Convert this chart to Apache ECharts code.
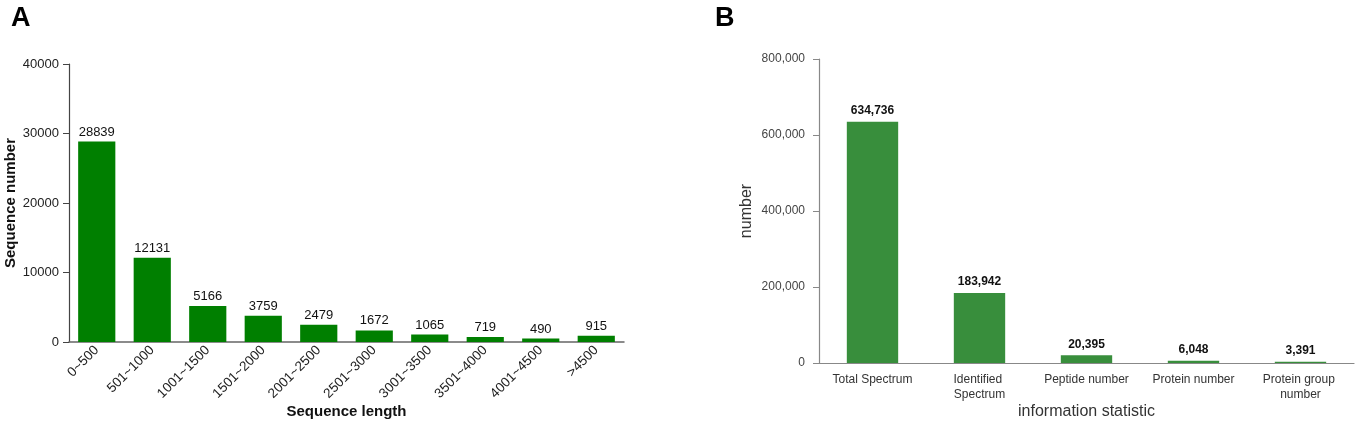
<!DOCTYPE html>
<html>
<head>
<meta charset="utf-8">
<script src="https://cdn.jsdelivr.net/npm/echarts@6/dist/echarts.min.js"></script>
<style>
html,body{margin:0;padding:0;background:#fff;}
#chart{width:1358px;height:424px;}
</style>
</head>
<body>
<div id="chart"></div>
<script>
// panel A: sequence length distribution
var lengthCats = ['0~500', '501~1000', '1001~1500', '1501~2000', '2001~2500', '2501~3000', '3001~3500', '3501~4000', '4001~4500', '>4500'];
var lengthCounts = [28839, 12131, 5166, 3759, 2479, 1672, 1065, 719, 490, 915];

// panel B: information statistic
var infoCats = ['Total Spectrum', 'Identified Spectrum', 'Peptide number', 'Protein number', 'Protein group number'];
var infoCounts = [634736, 183942, 20395, 6048, 3391];

var fontFam = '"Liberation Sans", Arial, sans-serif';

function withCommas(v) {
    return String(v).replace(/\B(?=(\d{3})+(?!\d))/g, ',');
}

var myChart = echarts.init(document.getElementById('chart'));

var option = {
    animation: false,
    textStyle: { fontFamily: fontFam },
    title: [
        { text: 'A', left: 6, top: 0, textStyle: { fontSize: 27, fontWeight: 'bold', color: '#000', fontFamily: fontFam } },
        { text: 'B', left: 710, top: 0, textStyle: { fontSize: 27, fontWeight: 'bold', color: '#000', fontFamily: fontFam } }
    ],
    grid: [
        { left: 69, top: 64, width: 555, height: 278, outerBoundsMode: 'none', containLabel: false },
        { left: 819, top: 59, width: 535, height: 304, outerBoundsMode: 'none', containLabel: false }
    ],
    xAxis: [
        {
            gridIndex: 0,
            type: 'category',
            data: lengthCats,
            name: 'Sequence length',
            nameLocation: 'middle',
            nameGap: 62,
            nameMoveOverlap: false,
            nameTextStyle: { fontSize: 15, fontWeight: 'bold', color: '#111' },
            axisLine: { lineStyle: { color: '#666', width: 1.5 } },
            axisTick: { alignWithLabel: true, length: 5, lineStyle: { color: '#444' } },
            axisLabel: { interval: 0, rotate: 45, fontSize: 13.5, color: '#222', margin: 6 }
        },
        {
            gridIndex: 1,
            type: 'category',
            data: infoCats,
            name: 'information statistic',
            nameLocation: 'middle',
            nameGap: 41,
            nameMoveOverlap: false,
            nameTextStyle: { fontSize: 16, color: '#333' },
            axisLine: { lineStyle: { color: '#888', width: 1.2 } },
            axisTick: { length: 6, lineStyle: { color: '#888' } },
            axisLabel: {
                interval: 0, fontSize: 12, color: '#333', margin: 9, lineHeight: 15,
                width: 96, overflow: 'break', align: 'center'
            }
        }
    ],
    yAxis: [
        {
            gridIndex: 0,
            type: 'value',
            min: 0,
            max: 40000,
            interval: 10000,
            name: 'Sequence number',
            nameLocation: 'middle',
            nameGap: 51,
            nameTextStyle: { fontSize: 15, fontWeight: 'bold', color: '#111' },
            axisLine: { show: true, lineStyle: { color: '#444', width: 1.2 } },
            axisTick: { show: true, length: 6, lineStyle: { color: '#444' } },
            axisLabel: { fontSize: 13, color: '#222', margin: 10, formatter: function (v) { return String(v); } },
            splitLine: { show: false }
        },
        {
            gridIndex: 1,
            type: 'value',
            min: 0,
            max: 800000,
            interval: 200000,
            name: 'number',
            nameLocation: 'middle',
            nameGap: 64,
            nameTextStyle: { fontSize: 16, color: '#333' },
            axisLine: { show: true, lineStyle: { color: '#888', width: 1.2 } },
            axisTick: { show: true, length: 6, lineStyle: { color: '#888' } },
            axisLabel: { fontSize: 12, color: '#444', margin: 14, formatter: withCommas },
            splitLine: { show: false }
        }
    ],
    series: [
        {
            type: 'bar',
            xAxisIndex: 0,
            yAxisIndex: 0,
            data: lengthCounts,
            barCategoryGap: '33%',
            itemStyle: { color: '#007f00' },
            label: { show: true, position: 'top', fontSize: 13, color: '#111', distance: 3 }
        },
        {
            type: 'bar',
            xAxisIndex: 1,
            yAxisIndex: 1,
            data: infoCounts,
            barCategoryGap: '52%',
            itemStyle: { color: '#388e3c' },
            label: {
                show: true, position: 'top', fontSize: 12, fontWeight: 'bold', color: '#111', distance: 5,
                formatter: function (p) { return withCommas(p.value); }
            }
        }
    ]
};

myChart.setOption(option);
</script>
</body>
</html>
